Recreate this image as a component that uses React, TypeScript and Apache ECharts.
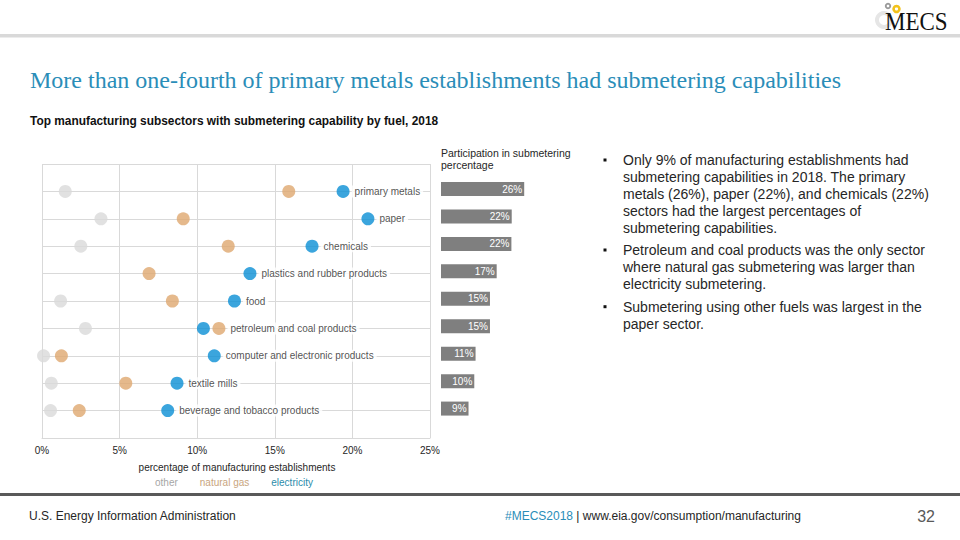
import React, { useEffect, useRef } from 'react';
import * as echarts from 'echarts';

const categories = [
  'primary metals',
  'paper',
  'chemicals',
  'plastics and rubber products',
  'food',
  'petroleum and coal products',
  'computer and electronic products',
  'textile mills',
  'beverage and tobacco products',
];
const otherValues: (number | null)[] = [1.5, 3.8, 2.5, null, 1.2, 2.8, 0.1, 0.6, 0.55];
const gasValues = [15.9, 9.1, 12.0, 6.9, 8.4, 11.4, 1.25, 5.4, 2.4];
const electricityValues = [19.4, 21.0, 17.4, 13.4, 12.4, 10.4, 11.1, 8.7, 8.1];
const participationValues = [26, 22.1, 22, 17.4, 15.3, 15.3, 10.8, 10.4, 8.6];
const legendNames = ['other', 'natural gas', 'electricity'];

const bullets = [
  [
    'Only 9% of manufacturing establishments had',
    'submetering capabilities in 2018. The primary',
    'metals (26%), paper (22%), and chemicals (22%)',
    'sectors had the largest percentages of',
    'submetering capabilities.',
  ],
  [
    'Petroleum and coal products was the only sector',
    'where natural gas submetering was larger than',
    'electricity submetering.',
  ],
  ['Submetering using other fuels was largest in the', 'paper sector.'],
];

const SANS = '"Liberation Sans", Arial, sans-serif';
const SERIF = '"Liberation Serif", "Times New Roman", serif';
const TXT = '#262626';

function pts(vals: (number | null)[]) {
  const n = categories.length;
  return vals
    .map((v, i) => (v == null ? null : [v, n - i]))
    .filter((d) => d !== null);
}

function buildGraphic() {
  const g: any[] = [];
  // header line
  g.push({ type: 'rect', shape: { x: 0, y: 34, width: 960, height: 3.5 }, style: { fill: '#d9d9d9' } });
  // logo gears
  g.push({ type: 'ring', shape: { cx: 884, cy: 20, r: 9, r0: 5 }, style: { fill: '#e6e6e6' } });
  g.push({ type: 'ring', shape: { cx: 888, cy: 6, r: 3.2, r0: 1.3 }, style: { fill: '#9a9a9a' } });
  g.push({ type: 'ring', shape: { cx: 896.5, cy: 9, r: 4.2, r0: 1.6 }, style: { fill: '#f2c21b' } });
  g.push({
    type: 'text', x: 885, y: 22, scaleX: 0.92,
    style: { text: 'MECS', font: `25px ${SERIF}`, fill: '#111', textVerticalAlign: 'middle' },
  });
  // title
  g.push({
    type: 'text', x: 30, y: 80,
    style: { text: 'More than one-fourth of primary metals establishments had submetering capabilities', font: `24px ${SERIF}`, fill: '#2a8db8', textVerticalAlign: 'middle' },
  });
  g.push({
    type: 'text', x: 30, y: 121,
    style: { text: 'Top manufacturing subsectors with submetering capability by fuel, 2018', font: `bold 11.9px ${SANS}`, fill: '#111', textVerticalAlign: 'middle' },
  });
  // bar title
  g.push({
    type: 'text', x: 441, y: 153,
    style: { text: 'Participation in submetering', font: `10.5px ${SANS}`, fill: TXT, textVerticalAlign: 'middle' },
  });
  g.push({
    type: 'text', x: 441, y: 165,
    style: { text: 'percentage', font: `10.5px ${SANS}`, fill: TXT, textVerticalAlign: 'middle' },
  });
  // axis name
  g.push({
    type: 'text', x: 237, y: 467,
    style: { text: 'percentage of manufacturing establishments', font: `10px ${SANS}`, fill: TXT, textAlign: 'center', textVerticalAlign: 'middle' },
  });
  // bullets
  const starts = [160, 250, 306.7];
  bullets.forEach((lines, bi) => {
    g.push({ type: 'rect', shape: { x: 603.5, y: starts[bi] - 1.5, width: 3, height: 3 }, style: { fill: '#111' } });
    lines.forEach((line, li) => {
      g.push({
        type: 'text', x: 623, y: starts[bi] + li * 16.9,
        style: { text: line, font: `14px ${SANS}`, fill: TXT, textVerticalAlign: 'middle' },
      });
    });
  });
  // footer
  g.push({ type: 'rect', shape: { x: 0, y: 493, width: 960, height: 3 }, style: { fill: '#595959' } });
  g.push({
    type: 'text', x: 29, y: 516,
    style: { text: 'U.S. Energy Information Administration', font: `12px ${SANS}`, fill: TXT, textVerticalAlign: 'middle' },
  });
  g.push({
    type: 'text', x: 505, y: 516,
    style: {
      text: '{a|#MECS2018} {b|| www.eia.gov/consumption/manufacturing}',
      textVerticalAlign: 'middle',
      rich: {
        a: { font: `12px ${SANS}`, fill: '#2a8db8' },
        b: { font: `12px ${SANS}`, fill: TXT },
      },
    },
  });
  g.push({
    type: 'text', x: 935, y: 516,
    style: { text: '32', font: `16px ${SANS}`, fill: '#595959', textAlign: 'right', textVerticalAlign: 'middle' },
  });
  return g;
}

export default function App() {
  const ref = useRef<HTMLDivElement>(null);
  useEffect(() => {
    document.body.style.margin = '0';
    const chart = echarts.init(ref.current!, null, { renderer: 'svg' });
    const n = categories.length;
    const option: any = {
      animation: false,
      backgroundColor: '#fff',
      textStyle: { fontFamily: SANS },
      grid: [
        { left: 42, top: 164, width: 388, height: 274 },
        { left: 441, top: 175.3, width: 96, height: 247 },
      ],
      xAxis: [
        {
          gridIndex: 0, type: 'value', min: 0, max: 25, interval: 5,
          axisLine: { show: true, lineStyle: { color: '#d9d9d9' } },
          axisTick: { show: false },
          axisLabel: { formatter: '{value}%', fontSize: 10, color: TXT, margin: 7, fontFamily: SANS },
          splitLine: { lineStyle: { color: '#d9d9d9' } },
        },
        { gridIndex: 1, type: 'value', min: 0, max: 30, show: false },
      ],
      yAxis: [
        {
          gridIndex: 0, type: 'value', min: 0, max: 10, interval: 1,
          axisLine: { show: false }, axisTick: { show: false }, axisLabel: { show: false },
          splitLine: { lineStyle: { color: '#d9d9d9' } },
        },
        { gridIndex: 1, type: 'category', data: categories, inverse: true, show: false },
      ],
      legend: {
        left: 145, top: 472, itemWidth: 0, itemHeight: 0, itemGap: 17, icon: 'rect',
        selectedMode: false,
        data: [
          { name: legendNames[0], textStyle: { color: '#a6a6a6' } },
          { name: legendNames[1], textStyle: { color: '#c9a57e' } },
          { name: legendNames[2], textStyle: { color: '#2a8cab' } },
        ],
        textStyle: { fontSize: 10, fontFamily: SANS },
      },
      series: [
        {
          type: 'scatter', name: legendNames[0], xAxisIndex: 0, yAxisIndex: 0, symbolSize: 13,
          itemStyle: { color: '#d9d9d9' }, data: pts(otherValues),
        },
        {
          type: 'scatter', name: legendNames[1], xAxisIndex: 0, yAxisIndex: 0, symbolSize: 13,
          itemStyle: { color: '#dfa86f' }, data: pts(gasValues),
        },
        {
          type: 'scatter', name: legendNames[2], xAxisIndex: 0, yAxisIndex: 0, symbolSize: 13,
          itemStyle: { color: '#0a8fd4' }, data: pts(electricityValues),
        },
        {
          type: 'scatter', name: 'labels', xAxisIndex: 0, yAxisIndex: 0, symbolSize: 13, silent: true, z: 5,
          itemStyle: { color: 'rgba(0,0,0,0)' },
          data: categories.map((c, i) => ({ value: [Math.max(gasValues[i], electricityValues[i]), n - i], name: c })),
          label: {
            show: true, position: 'right', distance: 2, formatter: (p: any) => p.name,
            color: TXT, fontSize: 10, fontFamily: SANS, backgroundColor: '#fff', padding: [1, 3],
          },
        },
        {
          type: 'bar', name: 'participation', xAxisIndex: 1, yAxisIndex: 1, barWidth: 14,
          itemStyle: { color: '#7f7f7f' }, data: participationValues,
          label: {
            show: true, position: 'insideRight', distance: 2, color: '#fff', fontSize: 10, fontFamily: SANS,
            formatter: (p: any) => Math.round(p.value) + '%',
          },
        },
      ],
      graphic: buildGraphic(),
    };
    chart.setOption(option);
    return () => chart.dispose();
  }, []);
  return <div ref={ref} style={{ width: 960, height: 540, position: 'absolute', left: 0, top: 0 }} />;
}
